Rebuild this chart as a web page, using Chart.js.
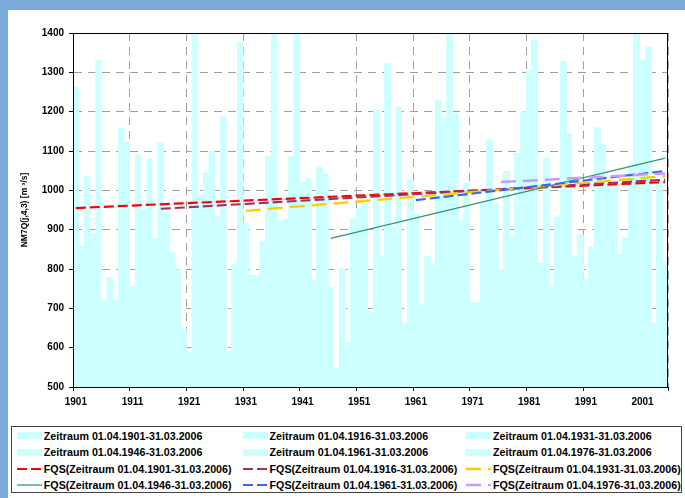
<!DOCTYPE html>
<html>
<head>
<meta charset="utf-8">
<script src="https://cdn.jsdelivr.net/npm/chart.js@4.4.1/dist/chart.umd.min.js"></script>
<style>
html,body{margin:0;padding:0;}
body{width:685px;height:498px;background:#7AAADA;position:relative;overflow:hidden;font-family:"Liberation Sans",Arial,sans-serif;}
#panel{position:absolute;left:8px;top:10px;right:0;bottom:0;background:#fff;}
#wrap{position:absolute;left:0;top:0;width:685px;height:420px;}
#legend{position:absolute;left:11px;top:426px;width:671px;height:67px;border:1px solid #444;box-sizing:border-box;
  display:grid;grid-template-columns:225.8px 223.4px auto;grid-auto-rows:16.5px;padding:0.5px 0 0 4.8px;
  font:bold 10.7px "Liberation Sans",Arial,sans-serif;color:#000;}
#legend .item{display:flex;align-items:center;white-space:nowrap;}
#legend .sw{width:25px;height:8px;margin-right:2px;display:flex;align-items:center;flex:none;}
</style>
</head>
<body>
<div id="panel"></div>
<div id="wrap"><canvas id="c" width="685" height="420"></canvas></div>
<div id="legend"></div>
<script>
// ---- data ----
const years = ['1901','1902','1903','1904','1905','1906','1907','1908','1909','1910',
'1911','1912','1913','1914','1915','1916','1917','1918','1919','1920',
'1921','1922','1923','1924','1925','1926','1927','1928','1929','1930',
'1931','1932','1933','1934','1935','1936','1937','1938','1939','1940',
'1941','1942','1943','1944','1945','1946','1947','1948','1949','1950',
'1951','1952','1953','1954','1955','1956','1957','1958','1959','1960',
'1961','1962','1963','1964','1965','1966','1967','1968','1969','1970',
'1971','1972','1973','1974','1975','1976','1977','1978','1979','1980',
'1981','1982','1983','1984','1985','1986','1987','1988','1989','1990',
'1991','1992','1993','1994','1995','1996','1997','1998','1999','2000',
'2001','2002','2003','2004','2005'];

const nm7q = [1263,858,1037,890,1332,721,779,721,1159,1123,
757,1090,952,1080,880,1121,942,841,798,647,
589,1450,988,1044,1099,932,1187,591,812,1376,
914,784,782,869,1085,1450,922,925,1085,1450,
1019,1029,769,1057,1043,752,548,800,612,927,
953,965,691,1206,831,1322,905,1210,662,1026,
937,704,830,811,1228,1185,1450,1195,922,1019,
714,714,969,1128,966,798,1047,884,1094,1199,
1304,1380,813,1080,757,930,1326,1143,831,886,
774,854,1158,1116,1010,1005,838,879,1066,1450,
1330,1362,661,1014,816];

const periodStart = ['1901','1916','1931','1946','1961','1976'];
const periodEnd = '2005';
const periodNames = ['Zeitraum 01.04.1901-31.03.2006','Zeitraum 01.04.1916-31.03.2006','Zeitraum 01.04.1931-31.03.2006',
'Zeitraum 01.04.1946-31.03.2006','Zeitraum 01.04.1961-31.03.2006','Zeitraum 01.04.1976-31.03.2006'];
const trendStartValue = [955, 953, 948, 878, 975, 1021];
const trendEndValue   = [1021, 1027, 1036, 1082, 1049, 1043];
const yTicks = [500,600,700,800,900,1000,1100,1200,1300,1400];
const labelEvery = 10;

// ---- styles ----
const lineStyles = [
  {color:'#FF0000', width:2.2, dash:[10,4]},
  {color:'#993366', width:2.1, dash:[10,4]},
  {color:'#FFCC00', width:2.3, dash:[15,7]},
  {color:'#339966', width:1.3, dash:[]},
  {color:'#3366FF', width:2.1, dash:[10,4]},
  {color:'#CC99FF', width:2.5, dash:[15,7]}
];
const barColor = '#CCFFFF';
const gridColor = '#a0a0a0';

Chart.defaults.font.family = "'Liberation Sans', Arial, sans-serif";
Chart.defaults.color = '#000';

const datasets = [];
periodStart.forEach((s, k) => {
  const si = years.indexOf(s);
  datasets.push({
    type:'bar', label: periodNames[k], xAxisID: 'x', yAxisID: 'y',
    data: nm7q.map((v, i) => i >= si ? v : null),
    backgroundColor: barColor, borderWidth: 0,
    grouped: false, barPercentage: 1, categoryPercentage: 1,
    order: 10, clip: 0
  });
});
periodStart.forEach((s, k) => {
  const st = lineStyles[k];
  datasets.push({
    type:'line', label: 'FQS(' + periodNames[k] + ')', xAxisID: 'x', yAxisID: 'y',
    data: [{x: s, y: trendStartValue[k]}, {x: periodEnd, y: trendEndValue[k]}],
    borderColor: st.color, backgroundColor: st.color, borderWidth: st.width, borderDash: st.dash,
    pointRadius: 0, fill: false, tension: 0, order: 6 - k
  });
});

const frame = {
  id:'frame',
  afterDraw(c){
    const {ctx, chartArea:a} = c;
    ctx.save();
    ctx.strokeStyle = '#000'; ctx.lineWidth = 1;
    ctx.strokeRect(Math.round(a.left)+0.5, Math.round(a.top)+0.5, Math.round(a.right - a.left) - 1, Math.round(a.bottom - a.top));
    ctx.restore();
  }
};

const htmlLegend = {
  id:'htmlLegend',
  afterUpdate(chart){
    const box = document.getElementById('legend');
    box.innerHTML = '';
    chart.data.datasets.forEach(ds => {
      const item = document.createElement('div');
      item.className = 'item';
      const sw = document.createElement('div');
      sw.className = 'sw';
      if (ds.type === 'bar') {
        sw.innerHTML = '<div style="width:25px;height:7px;background:' + ds.backgroundColor + '"></div>';
      } else {
        const dash = (ds.borderDash && ds.borderDash.length) ? ' stroke-dasharray="' + ds.borderDash.join(',') + '"' : '';
        sw.innerHTML = '<svg width="25" height="8"><line x1="0" y1="4" x2="25" y2="4" stroke="' + ds.borderColor +
          '" stroke-width="' + ds.borderWidth + '"' + dash + '/></svg>';
      }
      const tx = document.createElement('span');
      tx.textContent = ds.label;
      item.appendChild(sw); item.appendChild(tx);
      box.appendChild(item);
    });
  }
};

new Chart(document.getElementById('c'), {
  data: { labels: years, datasets },
  plugins: [frame, htmlLegend],
  options: {
    responsive: false, animation: false, devicePixelRatio: 1,
    layout: { padding: { left: 0, right: 17, top: 33, bottom: 0 } },
    plugins: { legend: { display: false }, tooltip: { enabled: false } },
    scales: {
      x: {
        type: 'category', position: 'bottom', weight: 1, offset: true,
        grid: { display: false, drawTicks: false },
        border: { display: false },
        ticks: {
          autoSkip: false, maxRotation: 0, minRotation: 0, padding: 5, color: '#000',
          font: { size: 10, weight: 'bold' },
          callback: function(v, i){ return i % labelEvery === 0 ? this.getLabelForValue(v) : ''; }
        },
        afterFit(s){ s.height = 29; }
      },
      // decade boundaries (gridlines + tick marks), measured in category widths from the left edge
      xg: {
        type: 'linear', position: 'bottom', weight: 0, display: true,
        min: 0, max: years.length,
        grid: { color: gridColor, lineWidth: 1, drawTicks: true, tickLength: 4, tickColor: '#000' },
        border: { display: true, color: '#000', width: 1, dash: [8,6] },
        ticks: { stepSize: labelEvery, display: false },
        afterFit(s){ s.height = 4; }
      },
      y: {
        type: 'linear', min: 500, max: 1400,
        grid: { lineWidth: 1, tickLength: 4, color: gridColor, tickColor: '#000' },
        border: { color: '#000', width: 1, dash: [8,6] },
        ticks: { stepSize: 100, padding: 5, color: '#000', font: { size: 10, weight: 'bold' },
          callback: v => yTicks.includes(v) ? String(v) : '' },
        title: { display: true, text: 'NM7Q(j,4,3) [m ³/s]', color: '#000',
          font: { size: 8.5, weight: 'bold' }, padding: { top: 20, bottom: 0 } },
        afterFit(s){ s.width = 73; }
      }
    }
  }
});
</script>
</body>
</html>
